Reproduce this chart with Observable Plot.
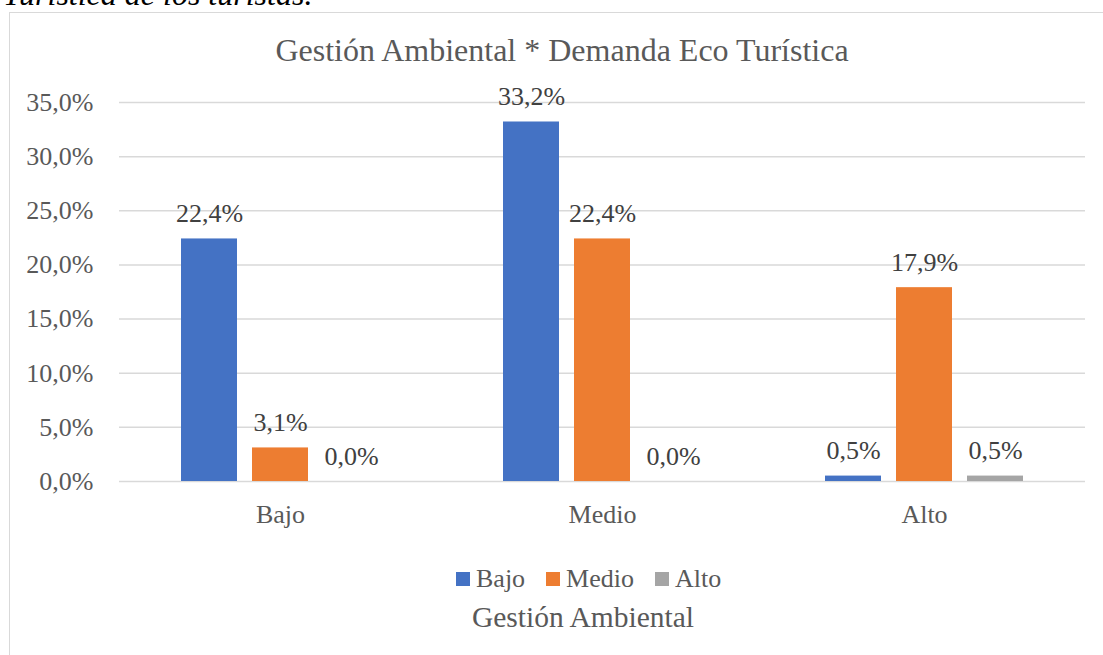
<!DOCTYPE html>
<html>
<head>
<meta charset="utf-8">
<script src="https://cdn.jsdelivr.net/npm/d3@7"></script>
<script src="https://cdn.jsdelivr.net/npm/@observablehq/plot@0.6"></script>
<style>
  html, body { margin: 0; padding: 0; background: #fff; font-family: 'Liberation Serif', Tinos, serif; }
  #page { position: relative; width: 1103px; height: 655px; overflow: hidden; background: #fff; color: #595959; }
  #page div, #page span, #page svg, #page text { font-family: 'Liberation Serif', Tinos, serif; }
  #doc { position: absolute; left: 3px; top: -22px; font-size: 32px; font-style: italic; color: #000; line-height: 1; white-space: nowrap; }
  #frame { position: absolute; left: 9px; top: 12px; width: 1200px; height: 800px; border: 1px solid #D9D9D9; box-sizing: border-box; }
  #title { position: absolute; left: 562px; top: 34px; transform: translateX(-50%); font-size: 32px; line-height: 1; white-space: nowrap; }
  #chart { position: absolute; left: 0; top: 70px; }
  #legend { position: absolute; left: 456px; top: 566px; display: flex; align-items: center; font-size: 26px; line-height: 1; white-space: nowrap; }
  .item { display: flex; align-items: center; margin-right: 21px; }
  .sw { width: 14px; height: 14px; margin-right: 6px; }
  #ltitle { position: absolute; left: 583px; top: 603px; transform: translateX(-50%); font-size: 29.5px; line-height: 1; white-space: nowrap; }
</style>
</head>
<body>
<div id="page">
  <div id="doc">Turística de los turistas.</div>
  <div id="frame"></div>
  <div id="title">Gestión Ambiental * Demanda Eco Turística</div>
  <div id="chart"></div>
  <div id="legend"></div>
  <div id="ltitle">Gestión Ambiental</div>
</div>
<script>
// Categories on the x axis (groups)
const categories = ["Bajo", "Medio", "Alto"];
// Legend series (Gestión Ambiental)
const series = ["Bajo", "Medio", "Alto"];
const seriesColors = ["#4472C4", "#ED7D31", "#A5A5A5"];
// Values (%) per series, in category order
const valuesBajo = [22.4, 33.2, 0.5];
const valuesMedio = [3.1, 22.4, 17.9];
const valuesAlto = [0.0, 0.0, 0.5];
// Y tick values
const yTicks = [0, 5, 10, 15, 20, 25, 30, 35];

const seriesValues = [valuesBajo, valuesMedio, valuesAlto];
const data = [];
categories.forEach((c, i) => {
  series.forEach((s, j) => {
    data.push({group: c, series: s, value: seriesValues[j][i]});
  });
});

const fmt = v => v.toFixed(1).replace(".", ",") + "%";
const FONT = "'Liberation Serif', Tinos, serif";

const chart = Plot.plot({
  width: 1103,
  height: 480,
  marginLeft: 118,
  marginRight: 17,
  marginTop: 32,
  marginBottom: 69,
  style: {
    fontFamily: FONT,
    fontSize: "26px",
    color: "#595959",
    background: "transparent",
    overflow: "visible"
  },
  fx: {domain: categories, padding: 0, axis: null},
  x: {domain: series, paddingInner: 0.2083, paddingOuter: 0.845, axis: null},
  y: {domain: [0, 35], axis: null},
  color: {domain: series, range: seriesColors},
  marks: [
    Plot.gridY(yTicks, {stroke: "#D9D9D9", strokeOpacity: 1, strokeWidth: 1.5}),
    Plot.axisY(yTicks, {tickSize: 0, tickPadding: 26, tickFormat: fmt, fontSize: 26, fontFamily: FONT, label: null}),
    Plot.axisFx({anchor: "bottom", tickSize: 0, tickPadding: 23, fontSize: 26, fontFamily: FONT, label: null}),
    Plot.barY(data, {fx: "group", x: "series", y: "value", fill: "series"}),
    Plot.text(data, {fx: "group", x: "series", y: "value", text: d => fmt(d.value),
      lineAnchor: "bottom", dy: -17, fill: "#404040", fontSize: 26, fontFamily: FONT})
  ]
});
chart.setAttribute("font-family", FONT);
document.getElementById("chart").appendChild(chart);

const legend = document.getElementById("legend");
series.forEach((s, i) => {
  const item = document.createElement("div");
  item.className = "item";
  const sw = document.createElement("div");
  sw.className = "sw";
  sw.style.background = seriesColors[i];
  const t = document.createElement("span");
  t.textContent = s;
  item.appendChild(sw);
  item.appendChild(t);
  legend.appendChild(item);
});
</script>
</body>
</html>
